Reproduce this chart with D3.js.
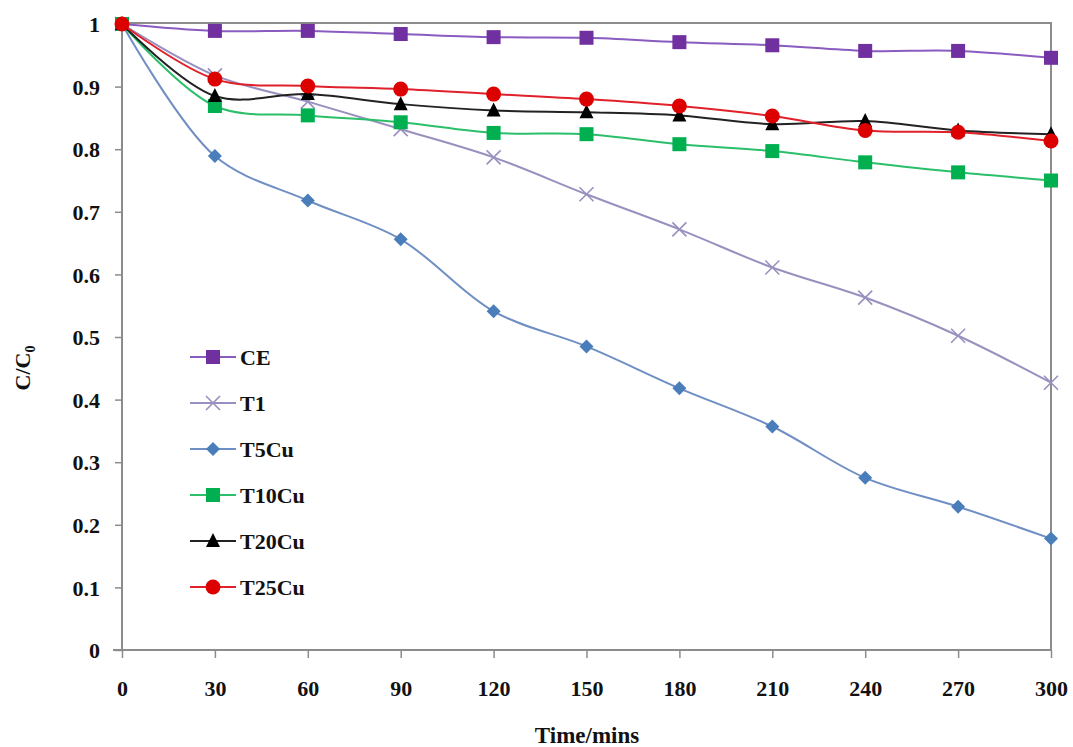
<!DOCTYPE html>
<html>
<head>
<meta charset="utf-8">
<script src="https://cdn.jsdelivr.net/npm/d3@7"></script>
<style>
  html, body { margin: 0; padding: 0; background: #fff; }
  svg { display: block; }
  text { font-family: "Liberation Serif", "Times New Roman", serif; font-weight: bold; fill: #111; }
</style>
</head>
<body>
<svg id="chart" width="1073" height="747"></svg>
<script>
// Irradiation time (minutes)
const times = [0, 30, 60, 90, 120, 150, 180, 210, 240, 270, 300];

// C/C0 values per sample
const ceValues    = [1, 0.989, 0.989, 0.984, 0.979, 0.978, 0.971, 0.966, 0.957, 0.957, 0.946];
const t1Values    = [1, 0.918, 0.876, 0.832, 0.787, 0.728, 0.672, 0.611, 0.563, 0.502, 0.427];
const t5cuValues  = [1, 0.789, 0.718, 0.656, 0.541, 0.485, 0.418, 0.357, 0.275, 0.229, 0.178];
const t10cuValues = [1, 0.869, 0.854, 0.843, 0.826, 0.824, 0.808, 0.797, 0.779, 0.763, 0.750];
const t20cuValues = [1, 0.885, 0.888, 0.872, 0.862, 0.859, 0.854, 0.840, 0.845, 0.830, 0.824];
const t25cuValues = [1, 0.912, 0.901, 0.896, 0.888, 0.880, 0.869, 0.853, 0.830, 0.827, 0.813];

const seriesNames = ["CE", "T1", "T5Cu", "T10Cu", "T20Cu", "T25Cu"];
const xTicks = [0, 30, 60, 90, 120, 150, 180, 210, 240, 270, 300];
const yTicks = [0, 0.1, 0.2, 0.3, 0.4, 0.5, 0.6, 0.7, 0.8, 0.9, 1];

const series = [
  { name: "CE",    values: ceValues,    line: "#8a5cc0", fill: "#7030a0", marker: "square" },
  { name: "T1",    values: t1Values,    line: "#9a90bf", fill: "#9a90bf", marker: "cross" },
  { name: "T5Cu",  values: t5cuValues,  line: "#6f8fc4", fill: "#4a7ebb", marker: "diamond" },
  { name: "T10Cu", values: t10cuValues, line: "#2bbf6a", fill: "#00b050", marker: "square" },
  { name: "T20Cu", values: t20cuValues, line: "#222222", fill: "#000000", marker: "triangle" },
  { name: "T25Cu", values: t25cuValues, line: "#e0202a", fill: "#dd0000", marker: "circle" }
];

const svg = d3.select("#chart");
const x = d3.scaleLinear().domain([0, 300]).range([122, 1051]);
const y = d3.scaleLinear().domain([0, 1]).range([650, 24]);

// plot frame (top and right edges)
svg.append("path")
  .attr("d", `M${x(0)},${y(1) - 1}H${x(300)}V${y(0)}`)
  .attr("fill", "none").attr("stroke", "#8c8c8c").attr("stroke-width", 2);

// y axis
const yAxis = svg.append("g").attr("transform", `translate(${x(0)},0)`)
  .call(d3.axisLeft(y).tickValues(yTicks).tickSize(7).tickPadding(24)
    .tickFormat(d => d === 0 ? "0" : d === 1 ? "1" : d3.format(".1f")(d)));
yAxis.select(".domain").attr("stroke", "#8c8c8c").attr("stroke-width", 2).attr("d", `M0,${y(1) - 1}V${y(0)}`);
yAxis.selectAll(".tick line").attr("stroke", "#8c8c8c").attr("stroke-width", 1.5);
yAxis.selectAll(".tick text").attr("font-size", 22).attr("fill", "#111")
  .attr("font-family", "Liberation Serif").attr("font-weight", "bold")
  .attr("text-anchor", "end").attr("x", -22).attr("dy", "0.35em");

// x axis
const xAxis = svg.append("g").attr("transform", `translate(0,${y(0)})`)
  .call(d3.axisBottom(x).tickValues(xTicks).tickSize(8).tickPadding(22));
xAxis.select(".domain").attr("stroke", "#8c8c8c").attr("stroke-width", 2).attr("d", `M${x(0) - 9},0H${x(300)}`);
xAxis.selectAll(".tick line").attr("stroke", "#8c8c8c").attr("stroke-width", 1.5);
xAxis.selectAll(".tick text").attr("font-size", 22).attr("fill", "#111")
  .attr("font-family", "Liberation Serif").attr("font-weight", "bold");

// axis titles
svg.append("text").attr("x", 587).attr("y", 743).attr("text-anchor", "middle")
  .attr("font-size", 23).text("Time/mins");
const yl = svg.append("text").attr("transform", "translate(30,368) rotate(-90)")
  .attr("text-anchor", "middle").attr("font-size", 22);
yl.append("tspan").text("C/C");
yl.append("tspan").attr("font-size", 14).attr("dy", 5).text("0");

// marker drawing
function drawMarker(g, type, fill, stroke) {
  if (type === "square") {
    g.append("rect").attr("x", -7).attr("y", -7).attr("width", 14).attr("height", 14).attr("fill", fill);
  } else if (type === "diamond") {
    g.append("path").attr("d", "M0,-7L7,0L0,7L-7,0Z").attr("fill", fill);
  } else if (type === "triangle") {
    g.append("path").attr("d", "M0,-8L7,6L-7,6Z").attr("fill", fill);
  } else if (type === "circle") {
    g.append("circle").attr("r", 7.5).attr("fill", fill);
  } else if (type === "cross") {
    g.append("path").attr("d", "M-7,-7L7,7M-7,7L7,-7").attr("stroke", stroke).attr("stroke-width", 1.6).attr("fill", "none");
  }
}

const line = d3.line().curve(d3.curveCatmullRom.alpha(0.5))
  .x((d, i) => x(times[i])).y(d => y(d));

series.forEach(s => {
  const g = svg.append("g");
  g.append("path").attr("d", line(s.values)).attr("fill", "none")
    .attr("stroke", s.line).attr("stroke-width", 2);
  s.values.forEach((v, i) => {
    const m = g.append("g").attr("transform", `translate(${x(times[i])},${y(v)})`);
    drawMarker(m, s.marker, s.fill, s.line);
  });
});

// legend
const legend = svg.append("g");
series.forEach((s, i) => {
  const yy = 357 + i * 46;
  const row = legend.append("g").attr("transform", `translate(190,${yy})`);
  row.append("line").attr("x1", 0).attr("x2", 46).attr("stroke", s.line).attr("stroke-width", 2);
  const m = row.append("g").attr("transform", "translate(23,0)");
  drawMarker(m, s.marker, s.fill, s.line);
  row.append("text").attr("x", 50).attr("y", 8).attr("font-size", 22).text(seriesNames[i]);
});
</script>
</body>
</html>
